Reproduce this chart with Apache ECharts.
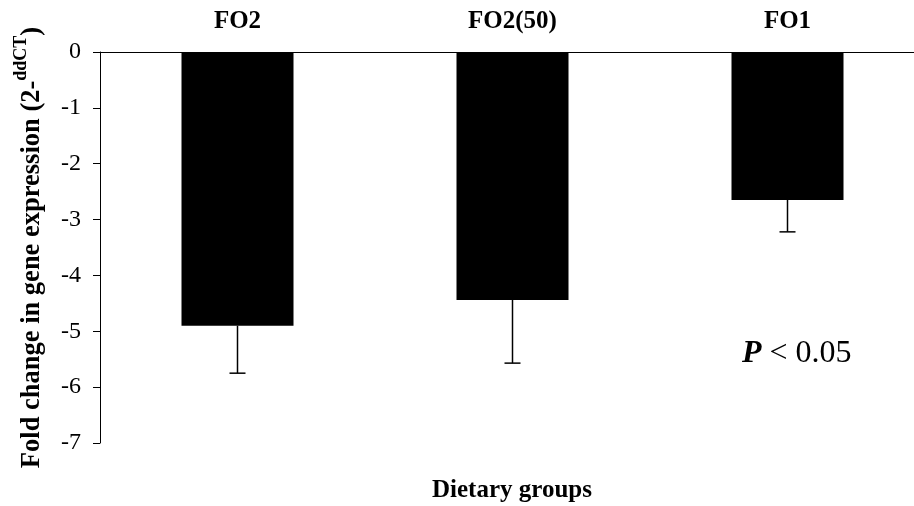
<!DOCTYPE html>
<html>
<head>
<meta charset="utf-8">
<script src="https://cdn.jsdelivr.net/npm/echarts@6/dist/echarts.min.js"></script>
<style>
  html, body { margin: 0; padding: 0; background: #fff; }
  #chart { width: 914px; height: 506px; }
</style>
</head>
<body>
<div id="chart"></div>
<script>
// Dietary groups and their mean fold change with standard error
const groups = ['FO2', 'FO2(50)', 'FO1'];
const foldChange = [-4.90, -4.44, -2.65];
const errorSize = [0.85, 1.13, 0.57];
const yTicks = { min: -7, max: 0, step: 1 };

const serif = '"Liberation Serif", "Times New Roman", serif';

const chart = echarts.init(document.getElementById('chart'));

chart.setOption({
  animation: false,
  backgroundColor: '#fff',
  // the plot area runs slightly past the right edge of the canvas
  grid: {
    left: 100, top: 52, right: -11, bottom: 63,
    containLabel: false,
    outerBoundsMode: 'none'
  },
  xAxis: {
    type: 'category',
    data: groups,
    position: 'top',
    axisLine: { lineStyle: { color: '#000', width: 1 } },
    axisTick: { inside: true, length: 7, lineStyle: { color: '#000' } },
    axisLabel: {
      margin: 18,
      color: '#000',
      fontFamily: serif,
      fontWeight: 'bold',
      fontSize: 25
    },
    splitLine: { show: false }
  },
  yAxis: {
    type: 'value',
    min: yTicks.min,
    max: yTicks.max,
    interval: yTicks.step,
    axisLine: { show: true, lineStyle: { color: '#000', width: 1 } },
    axisTick: { show: true, length: 7, lineStyle: { color: '#000' } },
    axisLabel: {
      margin: 19,
      color: '#000',
      fontFamily: serif,
      fontSize: 24
    },
    splitLine: { show: false },
    name: '{a|Fold change in gene expression (2-}{sup|ddCT}{a|)}',
    nameLocation: 'middle',
    nameRotate: 90,
    nameGap: 54,
    nameTextStyle: {
      rich: {
        a: {
          fontFamily: serif, fontWeight: 'bold', fontSize: 26.5, color: '#000',
          lineHeight: 34, verticalAlign: 'bottom'
        },
        sup: {
          fontFamily: serif, fontWeight: 'bold', fontSize: 18, color: '#000',
          lineHeight: 34, verticalAlign: 'top'
        }
      }
    }
  },
  series: [
    {
      type: 'bar',
      data: foldChange,
      barWidth: 112,
      itemStyle: { color: '#000' }
    },
    {
      // one-sided error bars extending below each bar
      type: 'custom',
      data: foldChange.map((v, i) => [i, v, v - errorSize[i]]),
      z: 5,
      renderItem: function (params, api) {
        const top = api.coord([api.value(0), api.value(1)]);
        const bottom = api.coord([api.value(0), api.value(2)]);
        const half = 8;
        const style = { stroke: '#000', lineWidth: 1.5 };
        return {
          type: 'group',
          children: [
            { type: 'line', shape: { x1: top[0], y1: top[1], x2: bottom[0], y2: bottom[1] }, style: style },
            { type: 'line', shape: { x1: bottom[0] - half, y1: bottom[1], x2: bottom[0] + half, y2: bottom[1] }, style: style }
          ]
        };
      }
    }
  ],
  graphic: [
    {
      type: 'text',
      x: 512,
      y: 491,
      style: {
        text: 'Dietary groups',
        font: 'bold 25px ' + serif,
        fill: '#000',
        align: 'center',
        verticalAlign: 'middle'
      }
    },
    {
      type: 'text',
      x: 742,
      y: 354,
      style: {
        text: '{p|P}{n| < 0.05}',
        verticalAlign: 'middle',
        rich: {
          p: { fontFamily: serif, fontWeight: 'bold', fontStyle: 'italic', fontSize: 32, fill: '#000', color: '#000' },
          n: { fontFamily: serif, fontSize: 32, fill: '#000', color: '#000' }
        }
      }
    }
  ]
});
</script>
</body>
</html>
